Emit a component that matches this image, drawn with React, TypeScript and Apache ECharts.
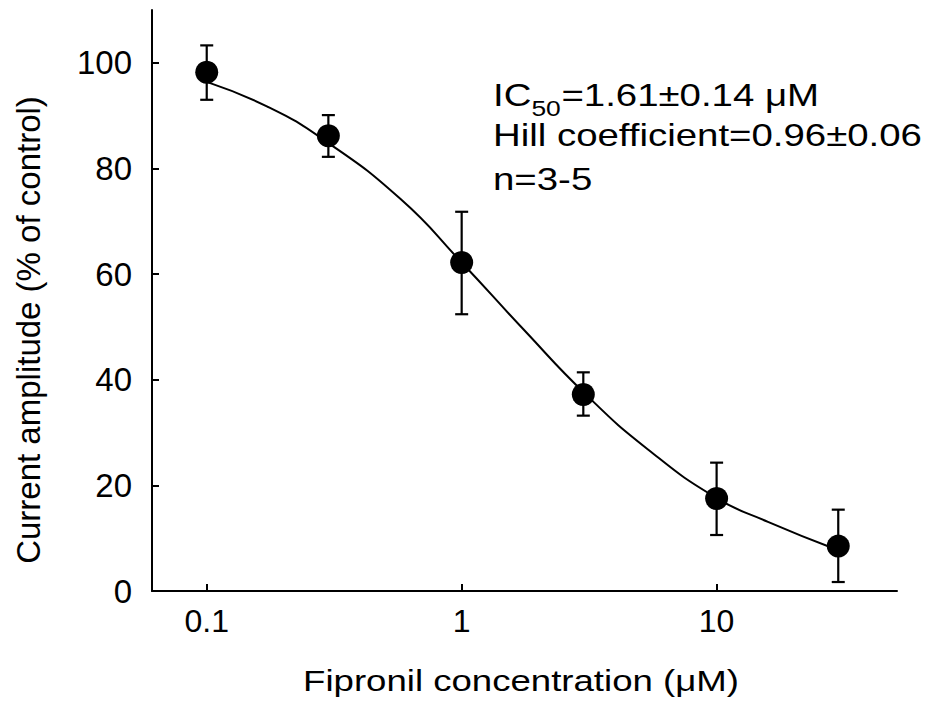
import React, { useEffect, useRef } from "react";
import * as echarts from "echarts";

// Fipronil concentrations (µM) and mean current amplitude (% of control)
const concentrations = [0.1, 0.3, 1, 3, 10, 30];
const meanAmplitude = [98.2, 86.2, 62.2, 37.2, 17.5, 8.5];
const errorLow = [93.0, 82.2, 52.4, 33.2, 10.6, 1.7];
const errorHigh = [103.3, 90.1, 71.8, 41.4, 24.3, 15.4];

// Fitted Hill curve, sampled along its length
const fitConcentration = [0.1, 0.173, 0.284, 0.576, 1, 1.75, 3.07, 5.38, 10, 15.9, 29];
const fitAmplitude = [96.4, 91.7, 85.6, 74.2, 62.2, 49.5, 37.2, 26.8, 17.6, 13.1, 8.0];

const xTickValues = [0.1, 1, 10];
const yTickValues = [0, 20, 40, 60, 80, 100];

const annotationHill = "Hill coefficient=0.96±0.06";
const annotationN = "n=3-5";
const xTitle = "Fipronil concentration (μM)";
const yTitle = "Current amplitude (% of control)";

const FONT = '"Liberation Sans", Arial, Helvetica, sans-serif';

export default function App() {
  const ref = useRef<HTMLDivElement>(null);

  useEffect(() => {
    if (!ref.current) return;
    const chart = echarts.init(ref.current, null, { renderer: "svg" });

    const points = concentrations.map((c, i) => [c, meanAmplitude[i]]);
    const bars = concentrations.map((c, i) => [c, errorLow[i], errorHigh[i]]);
    const fit = fitConcentration.map((c, i) => [c, fitAmplitude[i]]);

    const option: any = {
      animation: false,
      backgroundColor: "#ffffff",
      grid: { left: 152, right: 32, top: 10, bottom: 112, containLabel: false },
      xAxis: {
        type: "log",
        logBase: 10,
        min: 0.061,
        max: 51,
        axisLine: { show: true, onZero: false, lineStyle: { color: "#000", width: 2 } },
        axisTick: { show: true, inside: true, length: 7, lineStyle: { color: "#000", width: 2 }, customValues: xTickValues },
        axisLabel: {
          customValues: xTickValues,
          margin: 14,
          color: "#000",
          fontSize: 32,
          fontFamily: FONT,
          formatter: (v: number) => String(v),
        },
        splitLine: { show: false },
        minorTick: { show: false },
      },
      yAxis: {
        type: "value",
        min: 0,
        max: 110,
        axisLine: { show: true, lineStyle: { color: "#000", width: 2 } },
        axisTick: { show: true, inside: true, length: 7, lineStyle: { color: "#000", width: 2 }, customValues: yTickValues },
        axisLabel: {
          customValues: yTickValues,
          margin: 20,
          color: "#000",
          fontSize: 33,
          fontFamily: FONT,
        },
        splitLine: { show: false },
      },
      graphic: [
        {
          type: "group",
          x: 493,
          y: 0,
          scaleX: 1.2,
          children: [
            { type: "text", x: 0, y: 95, style: { text: "IC", fontSize: 32, fontFamily: FONT, fill: "#000", verticalAlign: "middle" } },
            { type: "text", x: 32, y: 108, style: { text: "50", fontSize: 22, fontFamily: FONT, fill: "#000", verticalAlign: "middle" } },
            { type: "text", x: 57, y: 95, style: { text: "=1.61±0.14 μM", fontSize: 32, fontFamily: FONT, fill: "#000", verticalAlign: "middle" } },
            { type: "text", x: 0, y: 135, style: { text: annotationHill, fontSize: 32, fontFamily: FONT, fill: "#000", verticalAlign: "middle" } },
            { type: "text", x: 0, y: 179, style: { text: annotationN, fontSize: 32, fontFamily: FONT, fill: "#000", verticalAlign: "middle" } },
          ],
        },
        {
          type: "text",
          x: 521,
          y: 681,
          scaleX: 1.22,
          style: { text: xTitle, fontSize: 30, fontFamily: FONT, fill: "#000", align: "center", verticalAlign: "middle" },
        },
        {
          type: "text",
          x: 28,
          y: 330,
          rotation: Math.PI / 2,
          style: { text: yTitle, fontSize: 33, fontFamily: FONT, fill: "#000", align: "center", verticalAlign: "middle" },
        },
      ],
      series: [
        {
          name: "fit",
          type: "line",
          data: fit,
          smooth: 0.5,
          showSymbol: false,
          symbol: "none",
          lineStyle: { color: "#000", width: 2 },
          z: 2,
          silent: true,
        },
        {
          name: "sem",
          type: "custom",
          data: bars,
          encode: { x: 0, y: [1, 2] },
          z: 3,
          renderItem: (_params: any, api: any) => {
            const x = api.value(0);
            const top = api.coord([x, api.value(2)]);
            const bottom = api.coord([x, api.value(1)]);
            const half = 6.5;
            const style = { stroke: "#000", lineWidth: 2.2, fill: "none" };
            return {
              type: "group",
              children: [
                { type: "line", shape: { x1: top[0], y1: top[1], x2: bottom[0], y2: bottom[1] }, style },
                { type: "line", shape: { x1: top[0] - half, y1: top[1], x2: top[0] + half, y2: top[1] }, style },
                { type: "line", shape: { x1: bottom[0] - half, y1: bottom[1], x2: bottom[0] + half, y2: bottom[1] }, style },
              ],
            };
          },
        },
        {
          name: "mean",
          type: "scatter",
          data: points,
          symbol: "circle",
          symbolSize: 23,
          itemStyle: { color: "#000", opacity: 1 },
          z: 4,
        },
      ],
    };

    chart.setOption(option);
    return () => chart.dispose();
  }, []);

  return <div ref={ref} style={{ position: "fixed", left: 0, top: 0, width: 929, height: 703 }} />;
}
